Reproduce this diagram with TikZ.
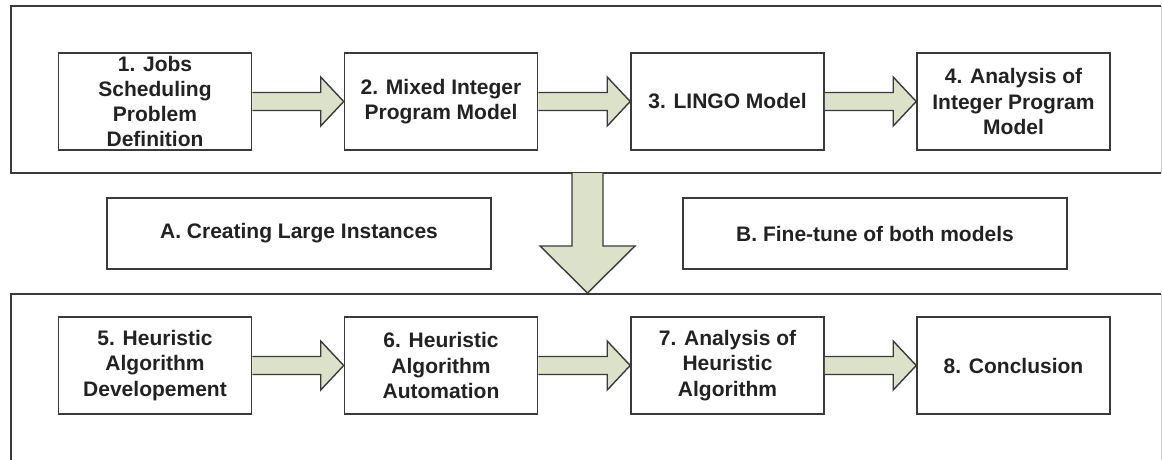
\documentclass[tikz,border=0pt]{standalone}
\usepackage{fontspec}
\setmainfont{Liberation Sans}
\usetikzlibrary{calc}

\definecolor{edge}{HTML}{3A3A3A}
\definecolor{faintedge}{HTML}{CCCCCC}
\definecolor{arrowfill}{HTML}{DCE1CA}
\definecolor{textgray}{HTML}{222222}

\tikzset{
  x=1pt, y=-1pt,
  stepbox/.style={draw=edge, line width=1.6pt, fill=white, align=center,
    minimum width=193pt, minimum height=97pt, inner sep=0pt,
    text=textgray, font=\bfseries\fontsize{21}{25.3}\selectfont},
  sidebox/.style={stepbox, minimum width=384pt, minimum height=71pt},
  frame/.style={draw=edge, line width=1.6pt},
  frameside/.style={draw=faintedge, line width=1pt},
  blockarrow/.style={draw=edge, line width=1.4pt, fill=arrowfill, line join=miter},
}

% horizontal block arrow from the east side of #1 to the west side of #2
\newcommand\flowarrow[2]{%
  \draw[blockarrow]
    ($(#1.east)+(0,-9)$) -- ($(#2.west)+(-23,-9)$) -- ($(#2.west)+(-23,-24.5)$)
    -- (#2.west) -- ($(#2.west)+(-23,24.5)$) -- ($(#2.west)+(-23,9)$)
    -- ($(#1.east)+(0,9)$);}

\begin{document}
\begin{tikzpicture}
\useasboundingbox (0,0) rectangle (1162,459);

% upper phase frame
\coordinate (upNW) at (11,6);
\coordinate (upNE) at (1161,6);
\coordinate (upSW) at (11,173);
\coordinate (upSE) at (1161,173);
\draw[frameside] (upNE) -- (upSE);
\draw[frame] (upSE) -- (upSW) -- (upNW) -- (upNE);

% lower phase frame (open at the bottom)
\coordinate (loNW) at (11,294);
\coordinate (loNE) at (1161,294);
\coordinate (loSW) at (11,460);
\coordinate (loSE) at (1161,460);
\draw[frameside] (loNE) -- (loSE);
\draw[frame] (loSW) -- (loNW) -- (loNE);

% transition arrow between the two phases
\coordinate (dropTop) at (587.5,173);
\coordinate (dropTip) at (587.5,293);
\draw[blockarrow]
  ($(dropTop)+(-15.5,0)$) -- ($(dropTip)+(-15.5,-47)$) -- ($(dropTip)+(-47.5,-47)$)
  -- (dropTip) -- ($(dropTip)+(47.5,-47)$) -- ($(dropTip)+(15.5,-47)$)
  -- ($(dropTop)+(15.5,0)$);

% upper steps
\node[stepbox] (s1) at (155,101.5) {1. Jobs\\Scheduling\\Problem\\Definition};
\node[stepbox] (s2) at (441,101.5) {2. Mixed Integer\\Program Model};
\node[stepbox] (s3) at (727.5,101.5) {3. LINGO Model};
\node[stepbox] (s4) at (1013.5,101.5) {4. Analysis of\\Integer Program\\Model};

% side activities
\node[sidebox] (sa) at (299,233.5) {A. Creating Large Instances};
\node[sidebox] (sb) at (875,233.5) {B. Fine-tune of both models};

% lower steps
\node[stepbox] (s5) at (155,365.5) {5. Heuristic\\Algorithm\\Developement};
\node[stepbox] (s6) at (441,365.5) {6. Heuristic\\Algorithm\\Automation};
\node[stepbox] (s7) at (727.5,365.5) {7. Analysis of\\Heuristic\\Algorithm};
\node[stepbox] (s8) at (1013.5,365.5) {8. Conclusion};

\flowarrow{s1}{s2}
\flowarrow{s2}{s3}
\flowarrow{s3}{s4}
\flowarrow{s5}{s6}
\flowarrow{s6}{s7}
\flowarrow{s7}{s8}
\end{tikzpicture}
\end{document}
